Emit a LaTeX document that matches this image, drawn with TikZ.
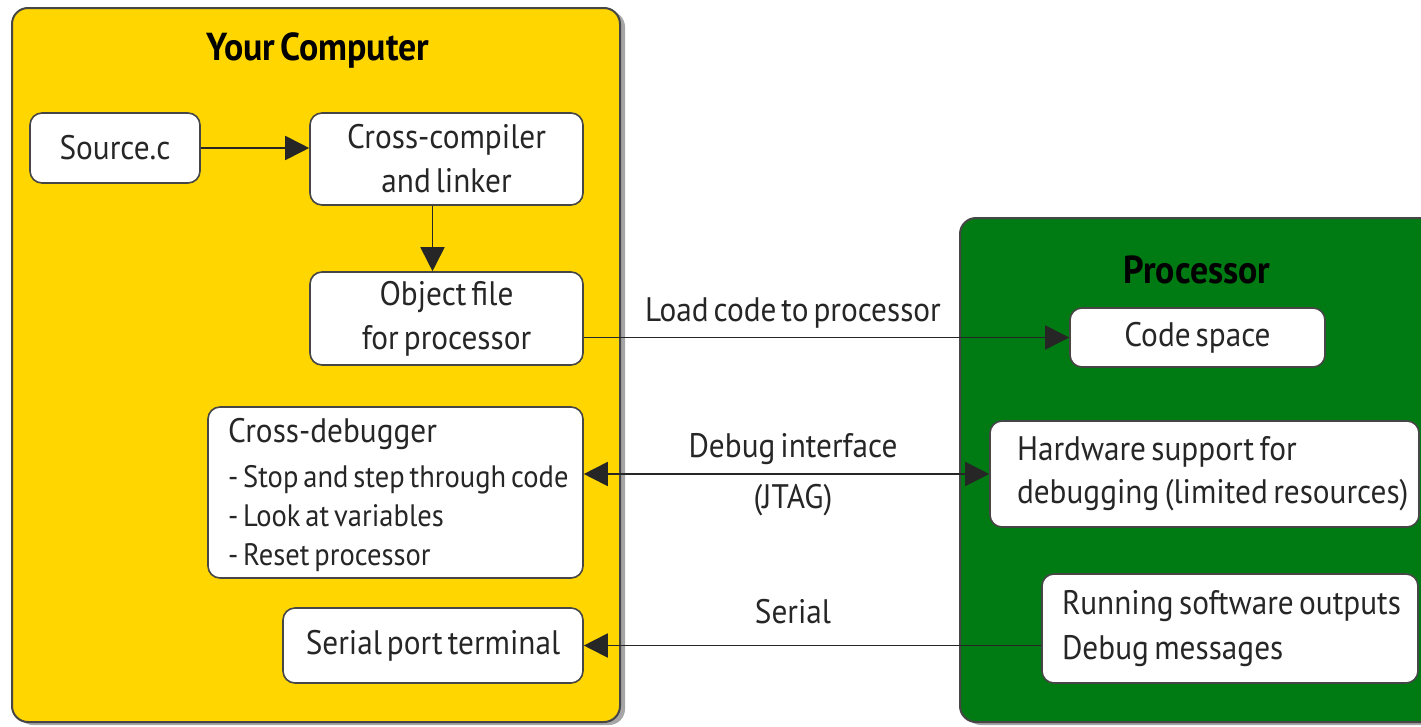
\documentclass[tikz,border=0pt]{standalone}
\usepackage{fontspec}
\setmainfont{PT Sans}[FakeStretch=0.92,WordSpace=0.6]
\usetikzlibrary{arrows.meta,shadows}

\definecolor{panelyellow}{RGB}{255,214,0}
\definecolor{panelgreen}{RGB}{0,122,18}
\definecolor{edgegray}{RGB}{70,70,70}

\newcommand{\itemfont}{\fontsize{31}{39}\selectfont\spaceskip=0.16em plus 0.02em\relax}

\begin{document}
\begin{tikzpicture}[x=1pt,y=-1pt,
  every node/.style={font=\fontsize{34}{39}\selectfont, text=black!85},
  panel/.style={draw=edgegray,line width=2pt,rounded corners=16pt,
    drop shadow={shadow xshift=5pt,shadow yshift=-3pt,opacity=0.35,fill=black}},
  box/.style={draw=edgegray,line width=1.6pt,fill=white,rounded corners=12pt,inner sep=0pt},
  lbox/.style={box,align=left,inner xsep=20pt,
    execute at begin node={\spaceskip=0.16em plus 0.02em\relax}},
  title/.style={font=\fontsize{39}{44}\selectfont\bfseries,text=black},
  link/.style={draw=black!85,line width=1.8pt},
  tip/.style={-{Triangle[length=24pt,width=24pt]}},
  tips/.style={{Triangle[length=24pt,width=24pt]}-{Triangle[length=24pt,width=24pt]}}
]
\clip (0,0) rectangle (1421,726);
\fill[white] (0,0) rectangle (1421,726);

% the two panels
\path[panel,fill=panelyellow] (12,8) rectangle (620,722);
\path[panel,fill=panelgreen] (960,218) rectangle (1460,722);

\node[title] (yc) at (318,50) {Your Computer};
\node[title] (pr) at (1197,270) {Processor};

% host side
\node[box,minimum width=170pt,minimum height=70pt] (src) at (115,148) {Source.c};
\node[box,minimum width=273pt,minimum height=92pt,align=center] (cc) at (446.5,159)
  {Cross-compiler\\[5pt]and linker};
\node[box,minimum width=273pt,minimum height=93pt,align=center] (obj) at (446.5,318.5)
  {Object file\\[5pt]for processor};
\node[lbox,text width=335pt,minimum height=171pt] (dbg) at (395.5,492.5)
  {\rule{0pt}{30pt}\mbox{Cross-debugger}\\[6pt]
   \mbox{\itemfont - Stop and step through code}\\
   \mbox{\itemfont - Look at variables}\\
   \mbox{\itemfont - Reset processor}};
\node[box,minimum width=300pt,minimum height=75pt] (ser) at (433,645.5) {Serial port terminal};

% target side
\node[box,minimum width=255pt,minimum height=59pt] (code) at (1197.5,337.5) {Code space};
\node[lbox,inner xsep=27pt,text width=375pt,minimum height=106pt] (hw) at (1204.5,474)
  {\mbox{Hardware support for}\\[4pt]\mbox{debugging (limited resources)}};
\node[lbox,text width=336pt,minimum height=109pt] (run) at (1230,628.5)
  {\mbox{Running software outputs}\\[6pt]\mbox{Debug messages}};

% connectors
\draw[link,tip] (src.east) -- (src.east -| cc.west);
\draw[link,tip] ([xshift=-14pt]cc.south) -- ([xshift=-14pt]obj.north);
\draw[link,tip] (obj.east |- code.west) -- (code.west);
\draw[link,tips] (dbg.east |- hw.west) -- (hw.west);
\draw[link,tip] (run.west |- ser.east) -- (ser.east);

% connector labels
\node (lload) at (793,313) {Load code to processor};
\node (ldbg) at (793,449) {Debug interface};
\node (ljtag) at (793,500) {(JTAG)};
\node (lser) at (793,612) {Serial};
\end{tikzpicture}
\end{document}
